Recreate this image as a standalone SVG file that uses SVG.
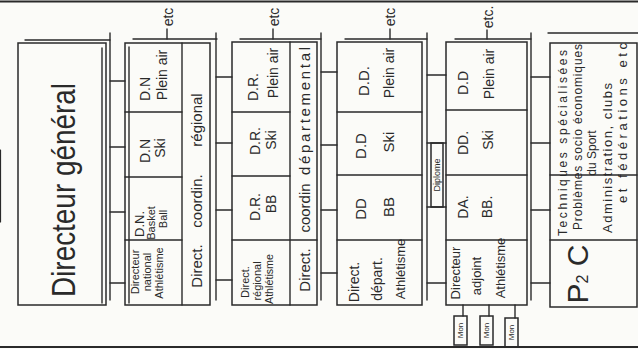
<svg xmlns="http://www.w3.org/2000/svg" width="638" height="349" viewBox="0 0 638 349">
<style>
.ln{stroke:#2a2a2a;stroke-width:1.4;fill:none;stroke-linecap:round}
.bx{stroke:#2a2a2a;stroke-width:1.5;fill:none}
.t{font-family:"Liberation Sans",Arial,sans-serif;fill:#2a2a2a;text-anchor:middle;dominant-baseline:central}
.s11{font-size:11px}.s12{font-size:12px}.s13{font-size:13px}.s14{font-size:14px}.s15{font-size:15px}
</style>
<rect width="638" height="349" fill="#fbfbf8"/>
<g id="frame" class="ln">
<line x1="0" y1="1.5" x2="638" y2="1.5" stroke-width="2"/>
<line x1="0" y1="347" x2="638" y2="347" stroke-width="2"/>
<line x1="0.5" y1="150" x2="0.5" y2="222" stroke-width="1.2"/>
</g>
<g id="connectors" class="ln">
<line x1="25" y1="40" x2="110" y2="40"/>
<line x1="110" y1="33" x2="110" y2="300"/>
<line x1="110" y1="81" x2="125" y2="81"/><line x1="110" y1="147" x2="125" y2="147"/><line x1="110" y1="212" x2="125" y2="212"/><line x1="110" y1="283" x2="125" y2="283"/>
<line x1="133" y1="39" x2="217" y2="39"/>
<line x1="216" y1="33" x2="216" y2="300"/>
<line x1="167" y1="39" x2="167" y2="29"/>
<line x1="216" y1="77" x2="232" y2="77"/><line x1="216" y1="143" x2="232" y2="143"/><line x1="216" y1="210" x2="232" y2="210"/><line x1="216" y1="280" x2="232" y2="280"/>
<line x1="240" y1="39" x2="321" y2="39"/>
<line x1="321" y1="33" x2="321" y2="300"/>
<line x1="273" y1="39" x2="273" y2="29"/>
<line x1="321" y1="72" x2="337" y2="72"/><line x1="321" y1="145" x2="337" y2="145"/><line x1="321" y1="210" x2="337" y2="210"/><line x1="321" y1="273" x2="337" y2="273"/>
<line x1="345" y1="39" x2="427" y2="39"/>
<line x1="427" y1="33" x2="427" y2="300"/>
<line x1="390" y1="39" x2="390" y2="29"/>
<line x1="427" y1="75" x2="446" y2="75"/><line x1="427" y1="283" x2="446" y2="283"/>
<line x1="427" y1="143" x2="446" y2="143"/><line x1="427" y1="207" x2="446" y2="207"/>
<line x1="455" y1="39" x2="531" y2="39"/>
<line x1="531" y1="33" x2="531" y2="300"/>
<line x1="487" y1="39" x2="487" y2="30"/>
<line x1="531" y1="77" x2="550" y2="77"/><line x1="531" y1="143" x2="550" y2="143"/><line x1="531" y1="210" x2="550" y2="210"/><line x1="531" y1="283" x2="550" y2="283"/>
<line x1="463" y1="305" x2="463" y2="316"/><line x1="489" y1="305" x2="489" y2="316"/><line x1="515" y1="305" x2="515" y2="318"/>
</g>
<g id="etc-labels">
<text class="t s14" transform="translate(168 17) rotate(-90)">etc</text>
<text class="t s14" transform="translate(274 17) rotate(-90)">etc</text>
<text class="t s14" transform="translate(390 17) rotate(-90)">etc</text>
<text class="t s14" transform="translate(488 17) rotate(-90)">etc.</text>
</g>
<g id="directeur-general">
<rect class="bx" x="18" y="43" width="88" height="262"/>
<line class="ln" x1="102" y1="48" x2="102" y2="303"/>
<text class="t" font-size="34" textLength="214" lengthAdjust="spacingAndGlyphs" transform="translate(63 190) rotate(-90)">Directeur général</text>
</g>
<g id="national">
<rect class="bx" x="125" y="43" width="85" height="262"/>
<line class="ln" x1="182" y1="43" x2="182" y2="305"/>
<line class="ln" x1="125" y1="112" x2="182" y2="112"/><line class="ln" x1="125" y1="177" x2="182" y2="177"/><line class="ln" x1="125" y1="240" x2="182" y2="240"/>
<line class="ln" x1="129" y1="47" x2="129" y2="303"/>
<text class="t s11" transform="translate(135 272) rotate(-90)">Directeur</text>
<text class="t s11" transform="translate(147 272) rotate(-90)">national</text>
<text class="t s11" transform="translate(159 273) rotate(-90)">Athlétisme</text>
<text class="t s13" transform="translate(139 224) rotate(-90)">D.N.</text>
<text class="t s11" transform="translate(151 223) rotate(-90)">Basket</text>
<text class="t s11" transform="translate(163 219) rotate(-90)">Ball</text>
<text class="t s14" transform="translate(145 151) rotate(-90)">D.N</text>
<text class="t s14" transform="translate(160 148) rotate(-90)">Ski</text>
<text class="t s14" transform="translate(145 89) rotate(-90)">D.N</text>
<text class="t s14" transform="translate(162 75) rotate(-90)">Plein air</text>
<text class="t s15" transform="translate(196 266) rotate(-90)">Direct.</text>
<text class="t s15" transform="translate(196 201) rotate(-90)">coordin.</text>
<text class="t s15" transform="translate(196 120) rotate(-90)">régional</text>
</g>
<g id="regional">
<rect class="bx" x="232" y="42" width="85" height="263"/>
<line class="ln" x1="290" y1="42" x2="290" y2="305"/>
<line class="ln" x1="232" y1="112" x2="290" y2="112"/><line class="ln" x1="232" y1="176" x2="290" y2="176"/><line class="ln" x1="232" y1="240" x2="317" y2="240"/>
<text class="t s11" transform="translate(245 282) rotate(-90)">Direct.</text>
<text class="t s11" transform="translate(257 281) rotate(-90)">régional</text>
<text class="t s11" textLength="50" lengthAdjust="spacingAndGlyphs" transform="translate(269 279) rotate(-90)">Athlétisme</text>
<text class="t s14" transform="translate(255 207) rotate(-90)">D.R.</text>
<text class="t s14" transform="translate(271 204) rotate(-90)">BB</text>
<text class="t s14" transform="translate(255 141) rotate(-90)">D.R.</text>
<text class="t s14" transform="translate(271 140) rotate(-90)">Ski</text>
<text class="t s14" transform="translate(253 87) rotate(-90)">D.R.</text>
<text class="t s14" transform="translate(273 73) rotate(-90)">Plein air</text>
<text class="t s15" transform="translate(304 270) rotate(-90)">Direct.</text>
<text class="t s15" transform="translate(304 208) rotate(-90)">coordin</text>
<text class="t s15" textLength="128" lengthAdjust="spacing" transform="translate(304 111) rotate(-90)">départemental</text>
</g>
<g id="departemental">
<rect class="bx" x="337" y="42" width="85" height="263"/>
<line class="ln" x1="337" y1="112" x2="422" y2="112"/><line class="ln" x1="337" y1="175" x2="422" y2="175"/><line class="ln" x1="337" y1="240" x2="422" y2="240"/>
<text class="t s14" transform="translate(354 282) rotate(-90)">Direct.</text>
<text class="t s14" transform="translate(377 279) rotate(-90)">départ.</text>
<text class="t s13" transform="translate(400 269) rotate(-90)">Athlétisme</text>
<text class="t s15" transform="translate(360 209) rotate(-90)">DD</text>
<text class="t s15" transform="translate(388 207) rotate(-90)">BB</text>
<text class="t s15" transform="translate(360 146) rotate(-90)">D.D</text>
<text class="t s15" transform="translate(388 142) rotate(-90)">Ski</text>
<text class="t s15" transform="translate(363 81) rotate(-90)">D.D.</text>
<text class="t s14" transform="translate(389 73) rotate(-90)">Plein air</text>
</g>
<g id="diplome">
<rect class="bx" x="431" y="143" width="12" height="64" stroke-width="1.2"/>
<text class="t" font-size="9" transform="translate(437 175) rotate(-90)">Diplome</text>
</g>
<g id="adjoint">
<rect class="bx" x="446" y="42" width="81" height="263"/>
<line class="ln" x1="446" y1="110" x2="527" y2="110"/><line class="ln" x1="446" y1="175" x2="527" y2="175"/><line class="ln" x1="446" y1="240" x2="527" y2="240"/>
<text class="t s13" transform="translate(455 273) rotate(-90)">Directeur</text>
<text class="t s13" transform="translate(476 276) rotate(-90)">adjoint</text>
<text class="t s13" transform="translate(500 268) rotate(-90)">Athlétisme</text>
<text class="t s14" transform="translate(463 207) rotate(-90)">DA.</text>
<text class="t s14" transform="translate(487 207) rotate(-90)">BB.</text>
<text class="t s14" transform="translate(463 143) rotate(-90)">DD.</text>
<text class="t s14" transform="translate(488 140) rotate(-90)">Ski</text>
<text class="t s14" transform="translate(463 83) rotate(-90)">D.D</text>
<text class="t s14" transform="translate(489 74) rotate(-90)">Plein air</text>
</g>
<g id="mon1"><rect class="bx" x="454" y="316" width="13" height="29" stroke-width="1.2"/><text class="t" font-size="8" transform="translate(460.5 330.5) rotate(-90)">Mon</text></g>
<g id="mon2"><rect class="bx" x="480" y="316" width="13" height="29" stroke-width="1.2"/><text class="t" font-size="8" transform="translate(486.5 330.5) rotate(-90)">Mon</text></g>
<g id="mon3"><rect class="bx" x="505" y="318" width="13" height="29" stroke-width="1.2"/><text class="t" font-size="8" transform="translate(511.5 332.5) rotate(-90)">Mon</text></g>
<g id="p2c">
<line class="ln" x1="548" y1="33" x2="638" y2="33"/>
<rect class="bx" x="550" y="43" width="87" height="264"/>
<line class="ln" x1="550" y1="175" x2="637" y2="175" stroke-width="1"/>
<line class="ln" x1="550" y1="240" x2="637" y2="240"/>
<text class="t" font-size="30" transform="translate(577 274) rotate(-90)">P<tspan font-size="16" dy="5">2</tspan><tspan dy="-5"> C</tspan></text>
<text class="t s12" textLength="186" lengthAdjust="spacing" transform="translate(563 143) rotate(-90)">Techniques spécialisées</text>
<text class="t s12" textLength="186" lengthAdjust="spacing" transform="translate(578 137) rotate(-90)">Problèmes socio économiques</text>
<text class="t s12" transform="translate(592 153) rotate(-90)">du Sport</text>
<text class="t s13" textLength="150" lengthAdjust="spacing" transform="translate(607 158) rotate(-90)">Administration, clubs</text>
<text class="t s13" textLength="160" lengthAdjust="spacing" transform="translate(622 123) rotate(-90)">et fédérations etc</text>
</g>
</svg>
